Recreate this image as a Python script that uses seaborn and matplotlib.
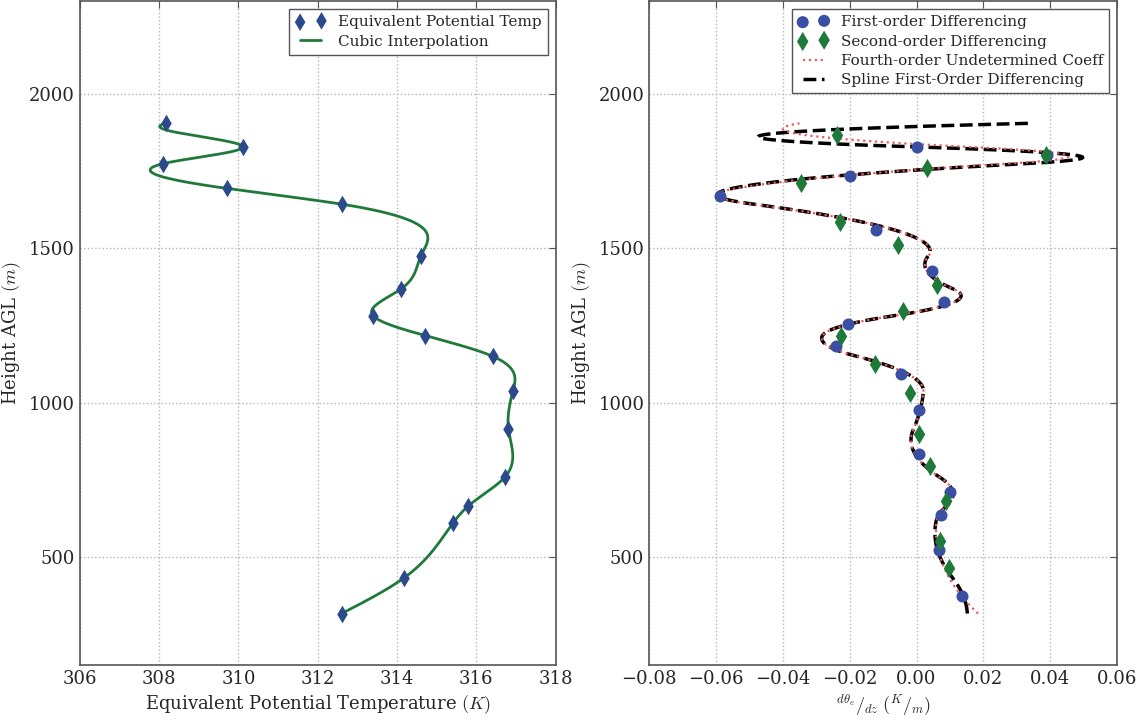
import numpy as np
import pandas as pd
import seaborn as sns
import matplotlib
matplotlib.use("Agg")
import matplotlib.pyplot as plt

# sounding: height AGL (m) and equivalent potential temperature (K)
height = [316, 432, 609, 665, 757, 913, 1036, 1150, 1217, 1282, 1368, 1475, 1643, 1694, 1774, 1828, 1905]
theta_e = [312.60, 314.18, 315.41, 315.80, 316.71, 316.81, 316.92, 316.41, 314.71, 313.39,
           314.10, 314.60, 312.60, 309.70, 308.09, 310.11, 308.18]

# end gradients (K/m) of the two derivative curves, bottom and top
spline_end_grad = [0.0152, 0.034]
fourth_end_grad = [0.0184, -0.035]

# first-order differencing
fo_height = [372, 522, 634, 710, 832, 975, 1092, 1183, 1253, 1326, 1425, 1559, 1669, 1734, 1801, 1828]
fo_grad = [0.0135, 0.0066, 0.0072, 0.0099, 0.0007, 0.0007, -0.0048, -0.0241, -0.0204, 0.0081,
           0.0045, -0.0121, -0.0587, -0.0200, 0.0391, 0.0000]

# second-order differencing
so_height = [464, 551, 681, 794, 897, 1032, 1124, 1217, 1296, 1382, 1509, 1586, 1712, 1760, 1803, 1868]
so_grad = [0.0096, 0.0070, 0.0088, 0.0041, 0.0007, -0.0019, -0.0124, -0.0225, -0.0042, 0.0061,
           -0.0056, -0.0228, -0.0347, 0.0031, 0.0388, -0.0239]


def cubic_spline(x, y, end_slopes):
    # clamped cubic spline, second-derivative form
    x = np.asarray(x, float)
    y = np.asarray(y, float)
    n = len(x)
    h = np.diff(x)
    A = np.zeros((n, n))
    r = np.zeros(n)
    for i in range(1, n - 1):
        A[i, i - 1] = h[i - 1]
        A[i, i] = 2 * (h[i - 1] + h[i])
        A[i, i + 1] = h[i]
        r[i] = 6 * ((y[i + 1] - y[i]) / h[i] - (y[i] - y[i - 1]) / h[i - 1])
    s0, s1 = end_slopes
    A[0, 0], A[0, 1] = 2 * h[0], h[0]
    r[0] = 6 * ((y[1] - y[0]) / h[0] - s0)
    A[-1, -2], A[-1, -1] = h[-1], 2 * h[-1]
    r[-1] = 6 * (s1 - (y[-1] - y[-2]) / h[-1])
    M = np.linalg.solve(A, r)

    def evaluate(t, deriv=0):
        t = np.asarray(t, float)
        i = np.clip(np.searchsorted(x, t) - 1, 0, n - 2)
        hi = h[i]
        a = x[i + 1] - t
        b = t - x[i]
        c1 = y[i] / hi - M[i] * hi / 6
        c2 = y[i + 1] / hi - M[i + 1] * hi / 6
        if deriv == 0:
            return M[i] * a ** 3 / (6 * hi) + M[i + 1] * b ** 3 / (6 * hi) + c1 * a + c2 * b
        return -M[i] * a ** 2 / (2 * hi) + M[i + 1] * b ** 2 / (2 * hi) - c1 + c2

    return evaluate


z_fine = np.linspace(height[0], height[-1], 800)
spl = cubic_spline(height, theta_e, spline_end_grad)
spl4 = cubic_spline(height, theta_e, fourth_end_grad)
curve = pd.DataFrame({"z": z_fine, "theta": spl(z_fine),
                      "dspl": spl(z_fine, 1), "d4": spl4(z_fine, 1)})

sns.set_style("white")
plt.rcParams["font.family"] = ["DejaVu Serif"]
plt.rcParams["mathtext.fontset"] = "cm"

blue = "#3a4ea3"
navy = "#2b4a8c"
green = "#1f7a3a"

fig = plt.figure(figsize=(11.41, 7.21), dpi=100)
ax1 = fig.add_axes([0.070, 0.078, 0.417, 0.920])
ax2 = fig.add_axes([0.569, 0.078, 0.410, 0.920])

sns.scatterplot(x=theta_e, y=height, ax=ax1, marker="d", s=80, color=navy, linewidth=0,
                label="Equivalent Potential Temp", zorder=3)
sns.lineplot(data=curve, x="theta", y="z", ax=ax1, sort=False, estimator=None, color=green,
             linewidth=2, label="Cubic Interpolation")
ax1.set_xlim(306, 318)
ax1.set_ylim(150, 2300)
ax1.set_xlabel("Equivalent Potential Temperature $(K)$", fontsize=13)
ax1.set_ylabel("Height AGL $(m)$", fontsize=13)

sns.scatterplot(x=fo_grad, y=fo_height, ax=ax2, marker="o", s=75, color=blue, linewidth=0,
                label="First-order Differencing", zorder=3)
sns.scatterplot(x=so_grad, y=so_height, ax=ax2, marker="d", s=95, color=green, linewidth=0,
                label="Second-order Differencing", zorder=4)
sns.lineplot(data=curve, x="d4", y="z", ax=ax2, sort=False, estimator=None, color="#ec5a5e",
             linewidth=1.6, linestyle=":", label="Fourth-order Undetermined Coeff", zorder=2)
sns.lineplot(data=curve, x="dspl", y="z", ax=ax2, sort=False, estimator=None, color="black",
             linewidth=2.5, linestyle="--", label="Spline First-Order Differencing", zorder=1)
ax2.set_xlim(-0.08, 0.06)
ax2.set_ylim(150, 2300)
ax2.set_xlabel(r"$^{d\theta_e}/_{dz}\;(^{K}/_{m})$", fontsize=13)
ax2.set_ylabel("Height AGL $(m)$", fontsize=13)

for ax in (ax1, ax2):
    ax.set_yticks([500, 1000, 1500, 2000])
    ax.grid(True, color="#b5b5b5", linestyle=":", linewidth=1)
    ax.tick_params(direction="in", top=True, right=True, labelsize=13, length=5, color="#555555")
    for sp in ax.spines.values():
        sp.set_color("#555555")
        sp.set_linewidth(1.2)
    ax.legend(loc="upper right", scatterpoints=2, numpoints=2, fontsize=11, frameon=True,
              fancybox=False, edgecolor="#555555", framealpha=1, borderpad=0.4,
              handlelength=2, labelspacing=0.35)

fig.savefig("out.png", dpi=100)
